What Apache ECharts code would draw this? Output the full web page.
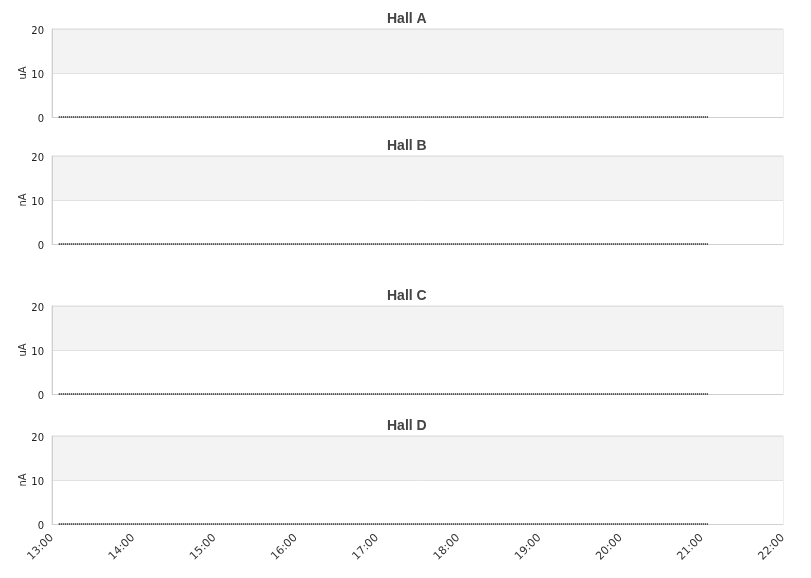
<!DOCTYPE html>
<html><head><meta charset="utf-8">
<script src="https://cdn.jsdelivr.net/npm/echarts@6/dist/echarts.min.js"></script>
<style>html,body{margin:0;padding:0;background:#fff}#c{width:811px;height:578px}</style>
</head><body><div id="c"></div>
<script>
var halls = ['Hall A', 'Hall B', 'Hall C', 'Hall D'];
var units = ['uA', 'nA', 'uA', 'nA'];
var tickLabels = ['13:00','14:00','15:00','16:00','17:00','18:00','19:00','20:00','21:00','22:00'];
// sample times (every 10 min, 13:05 .. 21:05)
var sampleTimes = ['13:05','13:15','13:25','13:35','13:45','13:55','14:05','14:15','14:25','14:35','14:45','14:55',
 '15:05','15:15','15:25','15:35','15:45','15:55','16:05','16:15','16:25','16:35','16:45','16:55',
 '17:05','17:15','17:25','17:35','17:45','17:55','18:05','18:15','18:25','18:35','18:45','18:55',
 '19:05','19:15','19:25','19:35','19:45','19:55','20:05','20:15','20:25','20:35','20:45','20:55','21:05'];
var hallA = [0,0,0,0,0,0,0,0,0,0,0,0,0,0,0,0,0,0,0,0,0,0,0,0,0,0,0,0,0,0,0,0,0,0,0,0,0,0,0,0,0,0,0,0,0,0,0,0,0];
var hallB = [0,0,0,0,0,0,0,0,0,0,0,0,0,0,0,0,0,0,0,0,0,0,0,0,0,0,0,0,0,0,0,0,0,0,0,0,0,0,0,0,0,0,0,0,0,0,0,0,0];
var hallC = [0,0,0,0,0,0,0,0,0,0,0,0,0,0,0,0,0,0,0,0,0,0,0,0,0,0,0,0,0,0,0,0,0,0,0,0,0,0,0,0,0,0,0,0,0,0,0,0,0];
var hallD = [0,0,0,0,0,0,0,0,0,0,0,0,0,0,0,0,0,0,0,0,0,0,0,0,0,0,0,0,0,0,0,0,0,0,0,0,0,0,0,0,0,0,0,0,0,0,0,0,0];
var yTicks = [0, 10, 20];

function toHours(s){ var p = s.split(':'); return +p[0] + (+p[1])/60; }
var xMin = toHours(tickLabels[0]), xMax = toHours(tickLabels[tickLabels.length-1]);
var allData = [hallA, hallB, hallC, hallD];
var tops = [29, 156, 306, 436];
var titleTops = [12, 139, 289, 419];

var grids = [], xAxes = [], yAxes = [], series = [], titles = [];
for (var i = 0; i < 4; i++) {
  titles.push({text: halls[i], left: 387, top: titleTops[i], padding: 0,
    textStyle: {fontSize: 14, fontWeight: 'bold', color: '#444', fontFamily: 'Liberation Sans'}});
  grids.push({left: 52, right: 28, top: tops[i], height: 88, show: true, borderColor: '#dcdcdc', borderWidth: 1, backgroundColor: 'transparent'});
  xAxes.push({type: 'value', gridIndex: i, min: xMin, max: xMax, interval: 1,
    axisLine: {show: true, lineStyle: {color: '#d0d0d0'}}, axisTick: {show: false}, splitLine: {show: false},
    axisLabel: {show: i === 3, rotate: 45, fontSize: 11, color: '#333', fontFamily: 'DejaVu Sans', margin: 12,
      formatter: function(v){ var h = Math.round(v); return h + ':00'; }}});
  yAxes.push({type: 'value', gridIndex: i, min: yTicks[0], max: yTicks[2], interval: yTicks[1] - yTicks[0],
    name: units[i], nameLocation: 'middle', nameGap: 24, nameMoveOverlap: false,
    nameTextStyle: {fontSize: 10, color: '#333', fontFamily: 'DejaVu Sans'},
    axisLine: {show: true, lineStyle: {color: '#d0d0d0'}}, axisTick: {show: false},
    axisLabel: {fontSize: 10, color: '#222', fontFamily: 'DejaVu Sans', margin: 8,
      formatter: function(v){ return '{a|' + v + '}'; },
      rich: {a: {fontSize: 10, color: '#222', fontFamily: 'DejaVu Sans', padding: [4, 0, 0, 0]}}},
    splitLine: {show: true, lineStyle: {color: '#e2e2e2'}},
    splitArea: {show: true, areaStyle: {color: ['#ffffff', '#f3f3f3']}}});
  var d = [];
  for (var k = 0; k < sampleTimes.length; k++) d.push([toHours(sampleTimes[k]), allData[i][k]]);
  series.push({type: 'line', xAxisIndex: i, yAxisIndex: i, data: d, showSymbol: false, animation: false,
    lineStyle: {width: 2, type: [1, 1], color: '#333'}});
}

var chart = echarts.init(document.getElementById('c'));
chart.setOption({animation: false, title: titles, grid: grids, xAxis: xAxes, yAxis: yAxes, series: series});
</script></body></html>
